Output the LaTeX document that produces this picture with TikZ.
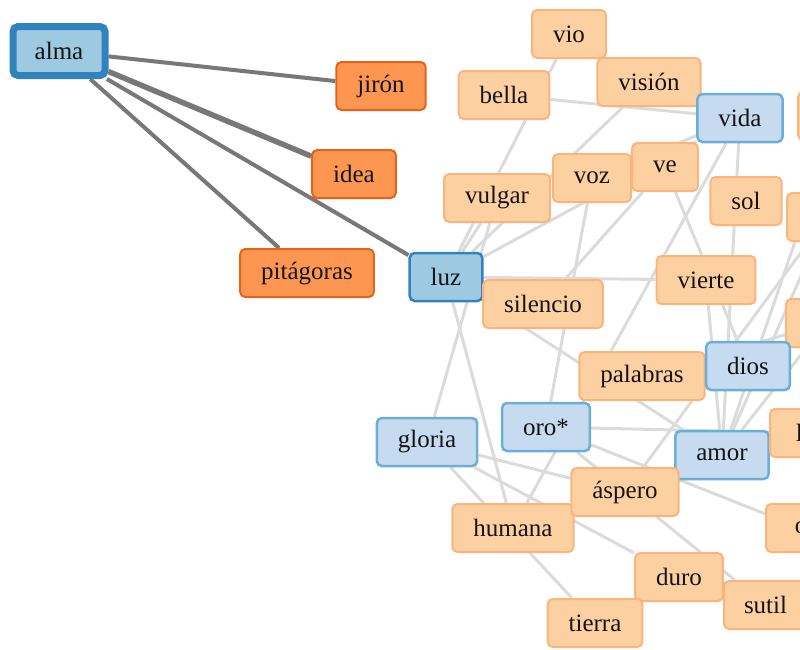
\documentclass[tikz,border=0pt]{standalone}
\usepackage{fontspec}
\setmainfont{Liberation Serif}
\usetikzlibrary{backgrounds}
\definecolor{wordfill}{HTML}{FDD0A2}
\definecolor{wordline}{HTML}{FBB47C}
\definecolor{hotfill}{HTML}{FD9650}
\definecolor{hotline}{HTML}{E6621A}
\definecolor{keyfill}{HTML}{C6DBEF}
\definecolor{keyline}{HTML}{6BAED6}
\definecolor{hubfill}{HTML}{9ECAE1}
\definecolor{hubline}{HTML}{3182BD}
\begin{document}
\begin{tikzpicture}[x=1pt,y=-1pt,
  every node/.style={font=\fontsize{25}{30}\selectfont, text=black!92, rounded corners=5pt,
    inner xsep=21pt, minimum height=48pt, line width=2pt},
  word/.style={draw=wordline, fill=wordfill},
  hot/.style={draw=hotline, fill=hotfill},
  key/.style={draw=keyline, fill=keyfill, line width=2.5pt},
  hub/.style={draw=hubline, fill=hubfill, line width=2.5pt},
  link/.style={draw=black!14, line width=3pt},
  tie/.style={draw=black!53, line width=4pt}]%alma
\useasboundingbox (0,0) rectangle (800,649);
\clip (0,0) rectangle (800,649);
% alma and its neighbours
\node[hub, line width=7pt, minimum width=92pt, minimum height=49pt] (alma) at (59,51) {alma};
\node[hot] (jiron) at (381,86) {jirón};
\node[hot] (idea) at (354,174) {idea};
\node[hot] (pitagoras) at (307,273) {pitágoras};
% the cluster
\node[word] (vio) at (569,34) {vio};
\node[word] (bella) at (504,95) {bella};
\node[word] (vision) at (649,82) {visión};
\node[key] (vida) at (740,118) {vida};
\node[word, minimum width=80pt] (offa) at (838,116) {};
\node[word] (vulgar) at (497,198) {vulgar};
\node[word] (voz) at (592,178) {voz};
\node[word] (ve) at (665,167) {ve};
\node[word] (sol) at (746,201) {sol};
\node[word, minimum width=80pt] (offb) at (827,217) {};
\node[hub] (luz) at (446,277) {luz};
\node[word] (silencio) at (543,304) {silencio};
\node[word] (vierte) at (706,280) {vierte};
\node[word, minimum width=80pt] (offc) at (826,323) {};
\node[word] (palabras) at (642,376) {palabras};
\node[key] (dios) at (748,366) {dios};
\node[key] (oro) at (546,427) {oro*};
\node[key] (gloria) at (427,442) {gloria};
\node[key] (amor) at (722,455) {amor};
\node[word, anchor=west, inner xsep=17pt, minimum width=70pt] (le) at (769,433) {le};
\node[word] (humana) at (513,528) {humana};
\node[word] (aspero) at (625,492) {áspero};
\node[word, anchor=west, inner xsep=20pt, minimum width=70pt] (o) at (765,528) {o};
\node[word] (duro) at (679,577) {duro};
\node[word, anchor=west, inner xsep=20pt] (sutil) at (723,605) {sutil};
\node[word] (tierra) at (595,623) {tierra};
\begin{scope}[on background layer]
\clip (0,0) rectangle (800,649);
\draw[link] (vio) -- (luz);
\draw[link] (bella) -- (vida);
\draw[link] (vision) -- (luz);
\draw[link] (vida) -- (luz);
\draw[link] (vida) -- (voz);
\draw[link] (vulgar) -- (luz);
\draw[link] (voz) -- (oro);
\draw[link] (ve) -- (silencio);
\draw[link] (ve) -- (dios);
\draw[link] (humana) -- (vida);
\draw[link] (vida) -- (amor);
\draw[link] (luz) -- (vierte);
\draw[link] (luz) -- (amor);
\draw[link] (luz) -- (humana);
\draw[link] (vulgar) -- (gloria);
\draw[link] (gloria) -- (aspero);
\draw[link] (gloria) -- (duro);
\draw[link] (gloria) -- (tierra);
\draw[link] (oro) -- (sutil);
\draw[link] (oro) -- (o);
\draw[link] (oro) -- (le);
\draw[link] (vierte) -- (amor);
\draw[link] (offa) -- (amor);
\draw[link] (offb) -- (amor);
\draw[link] (offb) -- (aspero);
\draw[link] (offc) -- (palabras);
\draw[link] (offc) -- (amor);
\draw[tie] (alma) -- (jiron);
\draw[tie, line width=5.5pt] (alma) -- (idea);
\draw[tie] (alma) -- (luz);
\draw[tie] (alma) -- (pitagoras);
\end{scope}
\end{tikzpicture}
\end{document}
